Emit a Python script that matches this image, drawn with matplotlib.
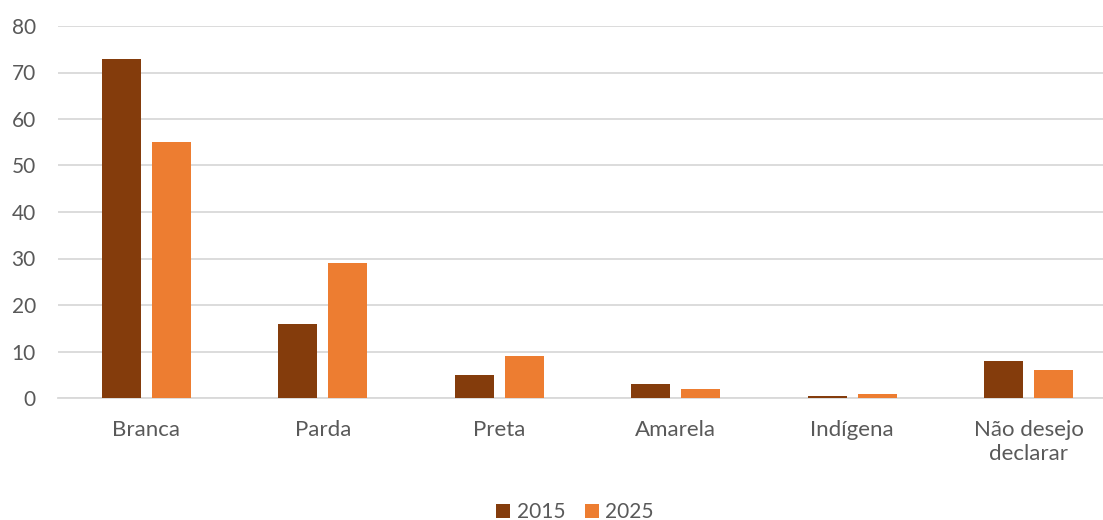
import matplotlib
matplotlib.use("Agg")
import matplotlib.pyplot as plt
import numpy as np

categories = ["Branca", "Parda", "Preta", "Amarela", "Indígena", "Não desejo\ndeclarar"]
series_names = ["2015", "2025"]
values_2015 = [73, 16, 5, 3, 0.4, 8]
values_2025 = [55, 29, 9, 2, 0.9, 6]
yticks = [0, 10, 20, 30, 40, 50, 60, 70, 80]

c2015 = "#843C0C"
c2025 = "#ED7D31"
txt = "#595959"
plt.rcParams['font.family'] = ['Lato', 'DejaVu Sans']

W, H = 1103, 520
fig = plt.figure(figsize=(W / 100, H / 100), dpi=100)
left, right, bottom, top = 58, 1117, 398, 26
ax = fig.add_axes([left / W, 1 - bottom / H, (right - left) / W, (bottom - top) / H])

x = np.arange(len(categories))
bw = 0.22
off = 0.1417
ax.bar(x - off, values_2015, bw, color=c2015, label=series_names[0], zorder=3)
ax.bar(x + off, values_2025, bw, color=c2025, label=series_names[1], zorder=3)

ax.set_xlim(-0.5, len(categories) - 0.5)
ax.set_ylim(0, 80)
ax.set_yticks(yticks)
ax.yaxis.grid(True, color="#d9d9d9", linewidth=1.3, zorder=0)
ax.set_axisbelow(True)
for s in ["top", "right", "left"]:
    ax.spines[s].set_visible(False)
ax.spines["bottom"].set_color("#d9d9d9")
ax.spines["bottom"].set_linewidth(1.3)
ax.tick_params(axis="both", length=0, colors=txt)
ax.tick_params(axis="y", pad=16, labelsize=15)
ax.tick_params(axis="x", pad=16, labelsize=16)
ax.set_xticks(x)
ax.set_xticklabels(categories, linespacing=1.25)

fig.legend(loc="center", bbox_to_anchor=(575 / W, 1 - 512 / H), ncol=2, frameon=False,
           fontsize=15, labelcolor=txt, handlelength=0.67, handleheight=0.67,
           handletextpad=0.3, columnspacing=0.95)

fig.savefig("out.png", dpi=100)
